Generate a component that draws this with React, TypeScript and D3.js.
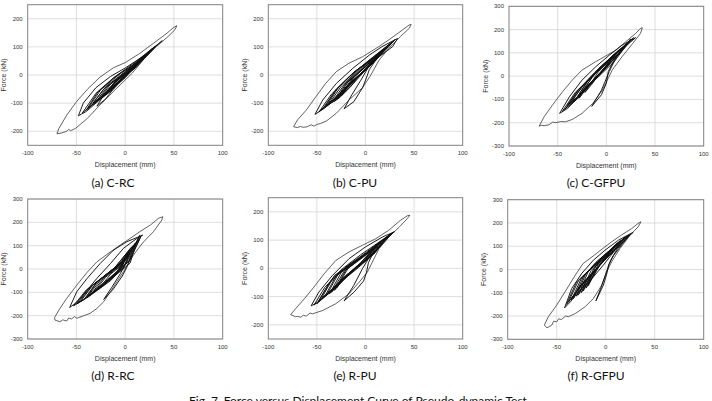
import * as d3 from "d3";

type Pt = [number, number];

const W = 712;
const H = 401;

const captions = ["(a) C-RC", "(b) C-PU", "(c) C-GFPU", "(d) R-RC", "(e) R-PU", "(f) R-GFPU"];
const figCaption = "Fig. 7. Force versus Displacement Curve of Pseudo-dynamic Test";
const xTitle = "Displacement (mm)";
const yTitle = "Force (kN)";

const dispTicks = [-100, -50, 0, 50, 100];
const forceTicks250 = [-200, -100, 0, 100, 200];
const forceTicks300 = [-300, -200, -100, 0, 100, 200, 300];

// hysteresis loops, [displacement mm, force kN]; first loop is the outermost cycle
const loopsCRC: Pt[][] = [
  [[-70, -209], [-68, -190], [-60, -143], [-50, -95], [-38, -48], [-26, -8], [-12, 26], [0, 44], [15, 77], [29, 113], [43, 149], [50, 170], [53, 175],
   [51, 161], [44, 137], [32, 101], [19, 56], [7, 6], [-9, -48], [-26, -107], [-39, -155], [-51, -190], [-56, -198], [-58, -193], [-60, -200], [-65, -206]],
  [[-48, -145], [-43, -100], [-30, -45], [-15, -5], [0, 25], [20, 70], [38, 122], [30, 98], [15, 48], [0, -10], [-15, -55], [-30, -100], [-40, -130]],
  [[-29, -111], [-20, -60], [-5, -5], [10, 40], [30, 100], [20, 65], [5, 15], [-10, -40], [-20, -85]],
  [[-40, -125], [-28, -60], [-10, -5], [10, 45], [28, 95], [12, 35], [-5, -20], [-25, -80]],
  [[-35, -110], [-22, -50], [0, 10], [25, 80], [5, 15], [-15, -55]],
  [[-30, -95], [-18, -40], [0, 5], [20, 65], [2, 5], [-15, -55]],
  [[-25, -85], [-12, -30], [5, 15], [15, 50], [0, -5], [-12, -50]],
  [[-20, -65], [-8, -20], [8, 25], [12, 35], [-2, -10], [-10, -40]],
  [[-44, -135], [-30, -65], [-12, -10], [8, 35], [33, 108], [12, 30], [-8, -25], [-28, -90]],
  [[-38, -118], [-25, -52], [-5, 5], [15, 52], [30, 100], [10, 25], [-10, -35], [-28, -88]],
  [[-33, -100], [-20, -42], [0, 12], [22, 75], [5, 12], [-15, -50]],
  [[-28, -92], [-15, -32], [3, 15], [18, 62], [0, 0], [-15, -50]],
  [[-22, -75], [-10, -25], [6, 22], [14, 45], [-3, -12], [-12, -45]],
];

const loopsCPU: Pt[][] = [
  [[-74, -184], [-70, -160], [-61, -125], [-51, -77], [-41, -30], [-30, 12], [-17, 42], [-3, 65], [11, 95], [24, 125], [38, 160], [45, 178], [47, 180],
   [45, 166], [36, 137], [24, 95], [14, 53], [5.5, 0], [-3, -45], [-17, -89], [-30, -136], [-40, -163], [-46, -172], [-50, -176], [-53, -182], [-56, -177], [-60, -184], [-64, -186], [-67, -183], [-70, -187]],
  [[-52, -140], [-44, -89], [-30, -30], [-13, 24], [4, 71], [17, 101], [33, 130], [28, 101], [14, 65], [0, 18], [-17, -36], [-34, -89], [-48, -131]],
  [[-22, -120], [-14, -70], [-5, -20], [5, 40], [15, 80], [30, 125], [25, 105], [12, 60], [4, 20], [1, -10], [-3, -45], [-12, -95]],
  [[-45, -125], [-32, -60], [-15, 0], [5, 55], [28, 118], [8, 45], [-10, -15], [-30, -85]],
  [[-42, -115], [-30, -50], [-12, 10], [8, 60], [25, 110], [10, 50], [-8, -5], [-28, -75]],
  [[-38, -105], [-25, -40], [-5, 25], [20, 90], [5, 35], [-15, -25], [-30, -80]],
  [[-32, -95], [-20, -30], [0, 32], [15, 78], [0, 18], [-18, -40]],
  [[-28, -85], [-15, -18], [3, 38], [12, 62], [-2, 10], [-15, -40]],
  [[-48, -132], [-35, -68], [-18, -10], [2, 48], [30, 125], [10, 50], [-8, -5], [-32, -90]],
  [[-40, -110], [-28, -45], [-10, 15], [10, 65], [22, 100], [5, 35], [-15, -25], [-30, -80]],
  [[-35, -100], [-22, -35], [-3, 28], [18, 88], [2, 25], [-18, -40]],
  [[-30, -90], [-18, -25], [2, 38], [14, 72], [-3, 10], [-18, -45]],
  [[-25, -75], [-12, -8], [5, 45], [10, 58], [-5, 5], [-15, -40]],
];

const loopsCGFPU: Pt[][] = [
  [[-69, -215], [-64, -175], [-55.5, -125], [-45, -67], [-35, -17], [-25, 26], [-11, 62], [-1, 86], [10, 112], [20, 148], [30, 183], [35, 205], [37, 208],
   [35, 183], [27, 140], [16, 83], [6, 26], [1, -17], [-4, -60], [-14, -117], [-25, -160], [-35, -186], [-42, -196], [-47, -195], [-52, -200], [-55, -197], [-59, -209], [-64, -213], [-67, -211]],
  [[-48, -160], [-38, -89], [-25, -17], [-11, 40], [3, 90], [16, 133], [30, 165], [23, 140], [13, 97], [0, 40], [-14, -24], [-28, -89], [-40, -139]],
  [[-15, -130], [-5, -60], [3, 20], [10, 80], [25, 160], [20, 130], [8, 70], [2, 20], [0, -30], [-5, -80]],
  [[-45, -150], [-32, -70], [-15, -3], [5, 80], [28, 165], [10, 85], [-8, 5], [-30, -95]],
  [[-40, -125], [-28, -55], [-12, 15], [5, 82], [22, 140], [8, 62], [-10, -10], [-28, -85]],
  [[-35, -105], [-22, -30], [-5, 45], [18, 128], [0, 35], [-18, -35], [-30, -90]],
  [[-30, -90], [-18, -15], [0, 58], [12, 105], [-3, 30], [-18, -40]],
  [[-25, -65], [-12, 8], [0, 60], [8, 88], [-5, 20], [-15, -30]],
  [[-42, -140], [-30, -65], [-13, 5], [8, 95], [26, 158], [10, 85], [-8, 0], [-30, -95]],
  [[-38, -120], [-25, -45], [-8, 30], [10, 100], [20, 135], [5, 60], [-12, -15], [-30, -90]],
  [[-33, -110], [-20, -25], [-3, 48], [15, 118], [-2, 35], [-20, -45]],
  [[-28, -95], [-15, -5], [2, 62], [10, 95], [-5, 20], [-18, -40]],
  [[-22, -70], [-8, 20], [3, 65], [6, 78], [-8, 5], [-15, -35]],
];

const loopsRRC: Pt[][] = [
  [[-72.5, -209], [-68, -176], [-60, -126], [-49.6, -69], [-39, -14], [-29, 31], [-15, 74], [-5, 103], [5, 131], [15, 160], [26, 189], [34, 217], [38.6, 224],
   [37.6, 210], [29, 160], [19, 117], [13.7, 89], [8.5, 60], [3.4, 25], [-1.7, -11], [-8.5, -54], [-15, -97], [-22, -140], [-29, -169], [-36, -190], [-43, -201], [-49.6, -211], [-52, -204], [-55, -214], [-58, -210], [-60, -223], [-64, -218], [-67, -226], [-72, -219]],
  [[-57, -165], [-49.6, -97], [-39, -40], [-25.6, 24], [-12, 81], [1.7, 117], [18, 145], [12, 131], [-1.7, 89], [-15, 24], [-29, -40], [-43, -111], [-51, -147]],
  [[-22, -130], [-14, -80], [-5, -20], [3, 40], [10, 100], [15, 145], [12, 120], [6, 60], [2, 10], [-3, -30], [-12, -85]],
  [[-50, -150], [-38, -85], [-20, -25], [0, 40], [15, 130], [5, 40], [-15, -50], [-38, -120]],
  [[-48, -145], [-35, -75], [-18, -20], [0, 35], [12, 120], [5, 25], [-15, -45], [-35, -110]],
  [[-42, -130], [-30, -60], [-12, 0], [8, 100], [-2, 5], [-20, -60], [-35, -105]],
  [[-38, -115], [-25, -45], [-8, 10], [5, 85], [-5, -5], [-22, -70]],
  [[-32, -100], [-20, -35], [-5, 15], [3, 70], [-8, -15], [-20, -60]],
  [[-53, -158], [-40, -90], [-22, -32], [-2, 35], [16, 138], [4, 35], [-18, -45], [-42, -130]],
  [[-46, -140], [-33, -68], [-15, -10], [2, 48], [10, 110], [0, 20], [-18, -48], [-36, -112]],
  [[-40, -122], [-28, -52], [-10, 8], [6, 92], [-4, 5], [-22, -65]],
  [[-35, -108], [-22, -38], [-6, 15], [4, 78], [-6, -5], [-22, -65]],
  [[-28, -90], [-15, -22], [-3, 18], [2, 60], [-10, -22], [-18, -52]],
];

const loopsRPU: Pt[][] = [
  [[-77, -164], [-72, -143], [-63, -108], [-53, -66], [-42.5, -19], [-30.5, 28], [-17, 58], [-3, 82], [10.6, 105], [24, 135], [36, 170], [43, 186], [45.6, 188],
   [43, 176], [35, 147], [24, 111], [14, 70], [7, 22], [2, -13], [-6.5, -49], [-17, -90], [-30.5, -125], [-44, -149], [-54.5, -161], [-57, -158], [-61, -169], [-64, -166], [-66.5, -173], [-70, -170], [-72, -171]],
  [[-56, -133], [-48, -84], [-34, -25], [-17, 34], [0, 76], [17.5, 111], [30, 130], [24, 117], [10.6, 76], [-3, 22], [-20, -31], [-37, -84], [-49, -120]],
  [[-22, -115], [-12, -60], [-3, 0], [5, 45], [15, 90], [28, 125], [20, 100], [8, 55], [3, 20], [1, -15], [-2, -45], [-12, -85]],
  [[-50, -125], [-38, -55], [-20, 5], [0, 55], [25, 120], [10, 60], [-10, 0], [-35, -80]],
  [[-45, -105], [-32, -25], [-15, 15], [5, 62], [22, 110], [10, 55], [-10, -5], [-30, -60]],
  [[-40, -95], [-28, -20], [-10, 25], [5, 58], [18, 100], [5, 40], [-15, -15], [-30, -60]],
  [[-35, -85], [-22, -10], [-5, 35], [12, 85], [0, 30], [-20, -25]],
  [[-30, -70], [-18, 0], [-3, 38], [8, 70], [-5, 20], [-18, -20]],
  [[-53, -130], [-42, -68], [-25, -5], [-5, 48], [28, 126], [12, 65], [-8, 5], [-38, -90]],
  [[-48, -115], [-35, -40], [-18, 10], [2, 55], [20, 105], [8, 50], [-12, -5], [-32, -70]],
  [[-42, -100], [-30, -25], [-12, 22], [10, 75], [0, 30], [-20, -25]],
  [[-37, -90], [-25, -15], [-8, 30], [15, 92], [2, 35], [-25, -40]],
  [[-32, -78], [-20, -5], [-5, 35], [10, 78], [-3, 25], [-20, -30]],
];

const loopsRGFPU: Pt[][] = [
  [[-62.6, -239], [-58.5, -203], [-50, -153], [-41.5, -96], [-31, -24], [-23, 26], [-14, 54], [-4, 87], [6, 119], [16, 148], [26.5, 176], [33, 198], [36, 205],
   [33, 183], [25, 148], [14.6, 90], [6, 33], [1, -10], [-4, -67], [-12.6, -125], [-21, -160], [-31, -189], [-38, -203], [-41, -200], [-45, -215], [-48, -212], [-50, -225], [-53, -222], [-55, -239], [-58, -246], [-60, -251]],
  [[-42, -165], [-34.7, -82], [-24.5, -17], [-12.6, 40], [-0.7, 83], [13, 126], [28, 160], [21, 133], [9.5, 83], [-2.4, 19], [-14, -39], [-28, -96], [-36, -139]],
  [[-10, -135], [-5, -80], [0, -20], [5, 40], [12, 90], [25, 150], [18, 115], [8, 60], [3, 20], [1, -20], [-2.4, -67]],
  [[-40, -150], [-30, -55], [-15, 5], [5, 80], [24, 150], [10, 85], [-5, 25], [-28, -85]],
  [[-35, -130], [-25, -40], [-10, 30], [5, 85], [20, 140], [8, 80], [-8, 10], [-25, -65]],
  [[-30, -115], [-20, -15], [-5, 45], [15, 125], [0, 45], [-18, -40]],
  [[-25, -100], [-15, -5], [-2, 55], [10, 105], [-3, 35], [-15, -30]],
  [[-20, -80], [-10, 15], [0, 60], [6, 90], [-5, 25], [-12, -20]],
  [[-38, -140], [-28, -50], [-12, 15], [5, 82], [22, 145], [8, 80], [-6, 20], [-26, -78]],
  [[-33, -125], [-22, -25], [-8, 38], [18, 132], [3, 58], [-15, -20], [-28, -80]],
  [[-28, -110], [-18, -10], [-4, 50], [12, 115], [-2, 38], [-18, -38]],
  [[-23, -92], [-12, 5], [-1, 55], [8, 98], [-4, 30], [-14, -22]],
  [[-18, -70], [-8, 20], [2, 62], [4, 80], [-6, 20], [-10, -10]],
];

interface PanelSpec {
  caption: string;
  loops: Pt[][];
  yMax: number;
  yTicks: number[];
  l: number;
  t: number;
  r: number;
  b: number;
  capX: number;
  capY: number;
}

const panels: PanelSpec[] = [
  { caption: captions[0], loops: loopsCRC, yMax: 250, yTicks: forceTicks250, l: 27.7, t: 4.7, r: 222.7, b: 145.3, capX: 113, capY: 187 },
  { caption: captions[1], loops: loopsCPU, yMax: 250, yTicks: forceTicks250, l: 268.3, t: 4.7, r: 462.7, b: 145.3, capX: 355, capY: 187 },
  { caption: captions[2], loops: loopsCGFPU, yMax: 300, yTicks: forceTicks300, l: 509, t: 6.3, r: 703.7, b: 146, capX: 596, capY: 187 },
  { caption: captions[3], loops: loopsRRC, yMax: 300, yTicks: forceTicks300, l: 27.7, t: 199, r: 222.7, b: 339, capX: 113, capY: 380 },
  { caption: captions[4], loops: loopsRPU, yMax: 250, yTicks: forceTicks250, l: 268.3, t: 197.7, r: 462.7, b: 339, capX: 355, capY: 380 },
  { caption: captions[5], loops: loopsRGFPU, yMax: 300, yTicks: forceTicks300, l: 507.7, t: 199.7, r: 703.7, b: 339.3, capX: 596, capY: 380 },
];

const axisFont = "'Liberation Sans', Arial, sans-serif";
const captionFont = "Lato, 'Open Sans', sans-serif";

function Panel({ p }: { p: PanelSpec }) {
  const x = d3.scaleLinear().domain([-100, 100]).range([p.l, p.r]);
  const y = d3.scaleLinear().domain([-p.yMax, p.yMax]).range([p.b, p.t]);
  const line = d3
    .line<Pt>()
    .x((d) => x(d[0]))
    .y((d) => y(d[1]))
    .curve(d3.curveLinearClosed);

  return (
    <g>
      {/* grid */}
      {dispTicks.slice(1, -1).map((v) => (
        <line key={`gx${v}`} x1={x(v)} x2={x(v)} y1={p.t} y2={p.b} stroke="#d6d6d6" strokeWidth={0.8} />
      ))}
      {p.yTicks.map((v) => (
        <line key={`gy${v}`} x1={p.l} x2={p.r} y1={y(v)} y2={y(v)} stroke="#d6d6d6" strokeWidth={0.8} />
      ))}
      <rect x={p.l} y={p.t} width={p.r - p.l} height={p.b - p.t} fill="none" stroke="#808080" strokeWidth={1} />

      {/* loops */}
      {p.loops.map((loop, i) => (
        <path
          key={i}
          d={line(loop) ?? ""}
          fill="none"
          stroke={i === 0 ? "#3a3a3a" : "#111"}
          strokeWidth={i === 0 ? 0.8 : 0.95}
          strokeLinejoin="round"
        />
      ))}

      {/* tick labels */}
      {dispTicks.map((v) => (
        <text key={`tx${v}`} x={x(v)} y={p.b + 10} textAnchor="middle" fontSize={6} fill="#333" fontFamily={axisFont}>
          {v}
        </text>
      ))}
      {p.yTicks.map((v) => (
        <text key={`ty${v}`} x={p.l - 5} y={y(v) + 2} textAnchor="end" fontSize={6} fill="#333" fontFamily={axisFont}>
          {v}
        </text>
      ))}
      <text x={(p.l + p.r) / 2} y={p.b + 22} textAnchor="middle" fontSize={7} fill="#333" fontFamily={axisFont}>
        {xTitle}
      </text>
      <text
        transform={`translate(${p.l - 21.5},${(p.t + p.b) / 2}) rotate(-90)`}
        textAnchor="middle"
        fontSize={7}
        fill="#333"
        fontFamily={axisFont}
      >
        {yTitle}
      </text>

      <text x={p.capX} y={p.capY} textAnchor="middle" fontSize={12} fill="#111" fontFamily={captionFont}>
        {p.caption}
      </text>
    </g>
  );
}

export default function App() {
  return (
    <svg
      width={W}
      height={H}
      viewBox={`0 0 ${W} ${H}`}
      style={{ position: "absolute", left: 0, top: 0, background: "#fff" }}
    >
      {panels.map((p) => (
        <Panel key={p.caption} p={p} />
      ))}
      <text x={358} y={405} textAnchor="middle" fontSize={12} fill="#111" fontFamily={captionFont}>
        {figCaption}
      </text>
    </svg>
  );
}
